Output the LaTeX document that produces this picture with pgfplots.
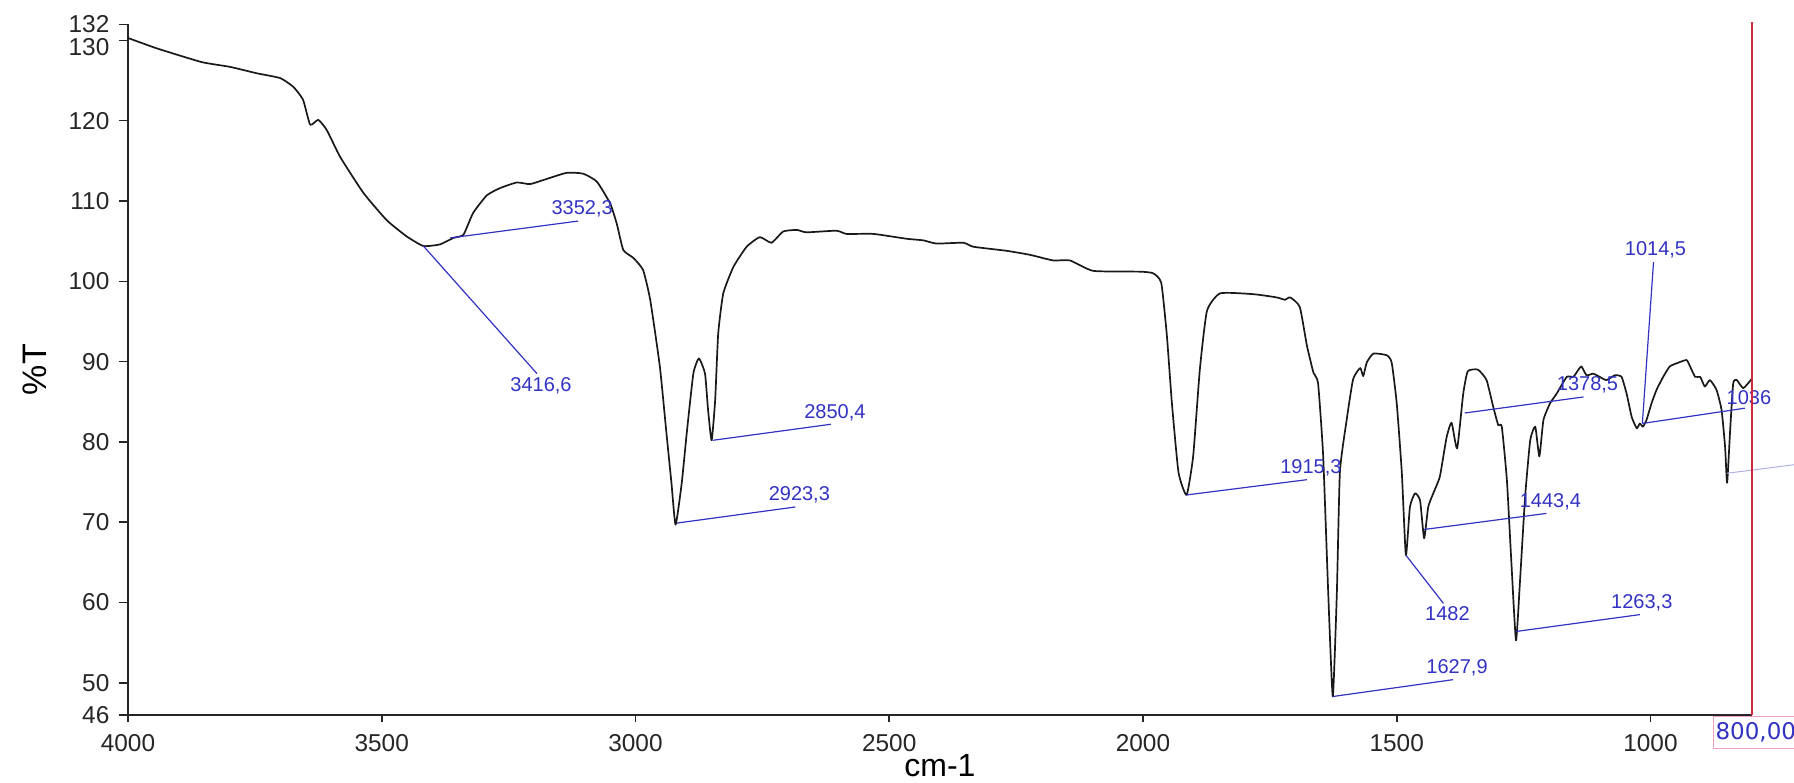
\documentclass[border=0pt]{standalone}
\usepackage{pgfplots}
\pgfplotsset{compat=1.18}
\usepackage{fontspec}
\setmainfont{Liberation Sans}
\newfontfamily\dejavu{DejaVu Sans}
\definecolor{annblue}{RGB}{50,50,195}
\definecolor{curvecol}{RGB}{25,25,25}
\definecolor{redline}{RGB}{210,40,60}
\definecolor{pinkbox}{RGB}{235,160,195}
\definecolor{paleblue}{RGB}{175,175,230}
\begin{document}
\begin{tikzpicture}
\begin{axis}[
  at={(64pt,33.5pt)}, anchor=south west,
  scale only axis, width=812pt, height=345.35pt,
  x dir=reverse, xmin=800, xmax=4000, ymin=46, ymax=132,
  axis lines=left, axis line style={-, line width=1pt, color=black!85},
  xtick={1000,1500,2000,2500,3000,3500,4000},
  ytick={46,50,60,70,80,90,100,110,120,132},
  yticklabels={46,50,60,70,80,90,100,110,120,\raisebox{0pt}[\height][\depth]{132}},
  extra y ticks={130},
  extra y tick style={yticklabel style={yshift=-3.5pt}},
  tick align=outside,
  xtick style={line width=0.8pt, black!85, /pgfplots/major tick length=3.5pt},
  ytick style={line width=0.8pt, black!85, /pgfplots/major tick length=4.5pt},
  /pgf/number format/assume math mode=true,
  /pgf/number format/1000 sep={},
  tick label style={font=\fontsize{12.2}{14}\selectfont, color=black!85},
  yticklabel style={xshift=-1.5pt, inner ysep=0.5pt},
  xticklabel style={yshift=-2pt},
  xlabel={cm-1}, ylabel={\%T},
  xlabel style={font=\fontsize{16}{19}\selectfont, at={(axis description cs:0.5,0)}, anchor=center, yshift=-25.5pt},
  ylabel style={font=\fontsize{17}{20}\selectfont, at={(axis description cs:0,0.5)}, anchor=center, yshift=46.5pt},
  clip=false,
]
\addplot[curvecol, line width=0.85pt, line join=round, smooth, tension=0.3] table {
w v
4000 130.3
3943 129.0
3855 127.3
3799 126.7
3746 125.9
3700 125.3
3674 124.2
3655 122.6
3641 119.5
3625 120.1
3608 118.8
3582 115.5
3536 111.0
3490 107.6
3451 105.6
3418 104.4
3385 104.6
3359 105.4
3339 105.8
3320 108.5
3293 110.7
3267 111.6
3234 112.3
3208 112.1
3182 112.6
3136 113.5
3103 113.4
3076 112.4
3050 109.7
3037 107.2
3024 103.9
3004 102.9
2985 101.4
2971 97.7
2952 89.4
2939 81.1
2929 74.8
2921 69.7
2909 74.8
2899 81.1
2886 88.5
2875 90.4
2863 88.5
2857 84.0
2850 80.2
2843 85.2
2837 93.5
2827 98.5
2807 101.8
2781 104.3
2755 105.5
2732 104.8
2709 106.2
2682 106.4
2663 106.1
2604 106.3
2584 105.9
2531 105.9
2466 105.3
2433 105.1
2407 104.7
2354 104.8
2334 104.3
2269 103.8
2223 103.3
2177 102.6
2144 102.6
2098 101.3
2006 101.2
1980 101.0
1964 99.8
1953 93.3
1943 84.8
1930 76.2
1914 73.4
1901 78.3
1888 89.0
1874 96.3
1848 98.5
1783 98.4
1737 98.0
1720 97.7
1710 98.0
1691 96.8
1677 92.0
1664 88.6
1655 87.3
1645 78.3
1635 61.2
1626 48.3
1618 61.2
1612 76.2
1599 82.6
1586 87.8
1572 89.2
1566 88.2
1559 89.9
1546 91.0
1520 90.8
1510 89.9
1500 84.8
1490 76.2
1482 65.9
1474 71.9
1464 73.6
1454 72.7
1446 68.0
1438 71.9
1428 73.6
1415 75.7
1402 80.5
1392 82.4
1381 79.2
1369 86.0
1360 88.8
1340 89.0
1323 87.7
1310 84.4
1300 82.1
1293 81.9
1283 75.3
1274 64.9
1265 55.3
1257 62.8
1247 73.2
1237 80.2
1227 81.9
1219 78.2
1211 82.7
1198 84.8
1185 86.0
1165 88.1
1152 88.1
1142 89.0
1136 89.4
1126 88.3
1113 88.5
1100 88.1
1087 87.7
1070 88.3
1057 88.1
1047 86.0
1037 83.1
1027 81.7
1021 82.3
1015 81.9
1008 82.7
998 84.8
988 86.5
975 88.1
962 89.4
948 89.8
929 90.2
922 89.4
912 88.1
902 88.1
893 86.9
883 87.7
870 86.5
860 84.0
853 79.4
849 74.9
843 81.5
837 87.3
830 87.7
817 86.7
800 87.9
};
% annotations
\tikzset{ann/.style={annblue, line width=0.6pt}, lab/.style={text=annblue, font=\fontsize{10}{12}\selectfont, inner sep=1.5pt}}
\draw[ann] (axis cs:3418,104.4) -- (axis cs:3194,88.5) node[lab, anchor=north, xshift=2pt] {3416,6};
\draw[ann] (axis cs:3365,105.4) -- (axis cs:3113,107.5) node[lab, anchor=south, xshift=2pt] {3352,3};
\draw[ann] (axis cs:2918,69.9) -- (axis cs:2685,71.9) node[lab, anchor=south, xshift=2pt] {2923,3};
\draw[ann] (axis cs:2848,80.2) -- (axis cs:2615,82.2) node[lab, anchor=south, xshift=2pt] {2850,4};
\draw[ann] (axis cs:1914,73.4) -- (axis cs:1677,75.3) node[lab, anchor=south, xshift=2pt] {1915,3};
\draw[ann] (axis cs:1626,48.3) -- (axis cs:1389,50.4) node[lab, anchor=south, xshift=2pt] {1627,9};
\draw[ann] (axis cs:1482,65.9) -- (axis cs:1408,59.9) node[lab, anchor=north, xshift=2pt] {1482};
\draw[ann] (axis cs:1446,69.1) -- (axis cs:1205,71.1) node[lab, anchor=south, xshift=2pt] {1443,4};
\draw[ann] (axis cs:1265,56.4) -- (axis cs:1021,58.5) node[lab, anchor=south, xshift=1pt] {1263,3};
\draw[ann] (axis cs:1366,83.6) -- (axis cs:1132,85.6) node[lab, anchor=south, xshift=2pt] {1378,5};
\draw[ann] (axis cs:1016,82.3) -- (axis cs:994,102.4) node[lab, anchor=south, xshift=1pt] {1014,5};
\draw[ann] (axis cs:1016,82.3) -- (axis cs:814,84.2) node[lab, anchor=south, xshift=2pt] {1036};
\draw[paleblue, line width=0.5pt] (axis cs:849,76.1) -- (axis cs:700,77.3);
% red cursor line and value box
\draw[redline, line width=0.9pt] (axis cs:800,132.3) -- (axis cs:800,46);
\node[draw=pinkbox, line width=0.5pt, text=annblue, font=\dejavu\fontsize{11.5}{14}\selectfont, inner xsep=1.2pt, inner ysep=3pt, anchor=north west, xshift=-19.65pt, yshift=-0.5pt] at (axis cs:800,46) {800,00};
\end{axis}
\pgfresetboundingbox
\useasboundingbox (0pt,0pt) rectangle (897pt,391pt);
\end{tikzpicture}
\end{document}
